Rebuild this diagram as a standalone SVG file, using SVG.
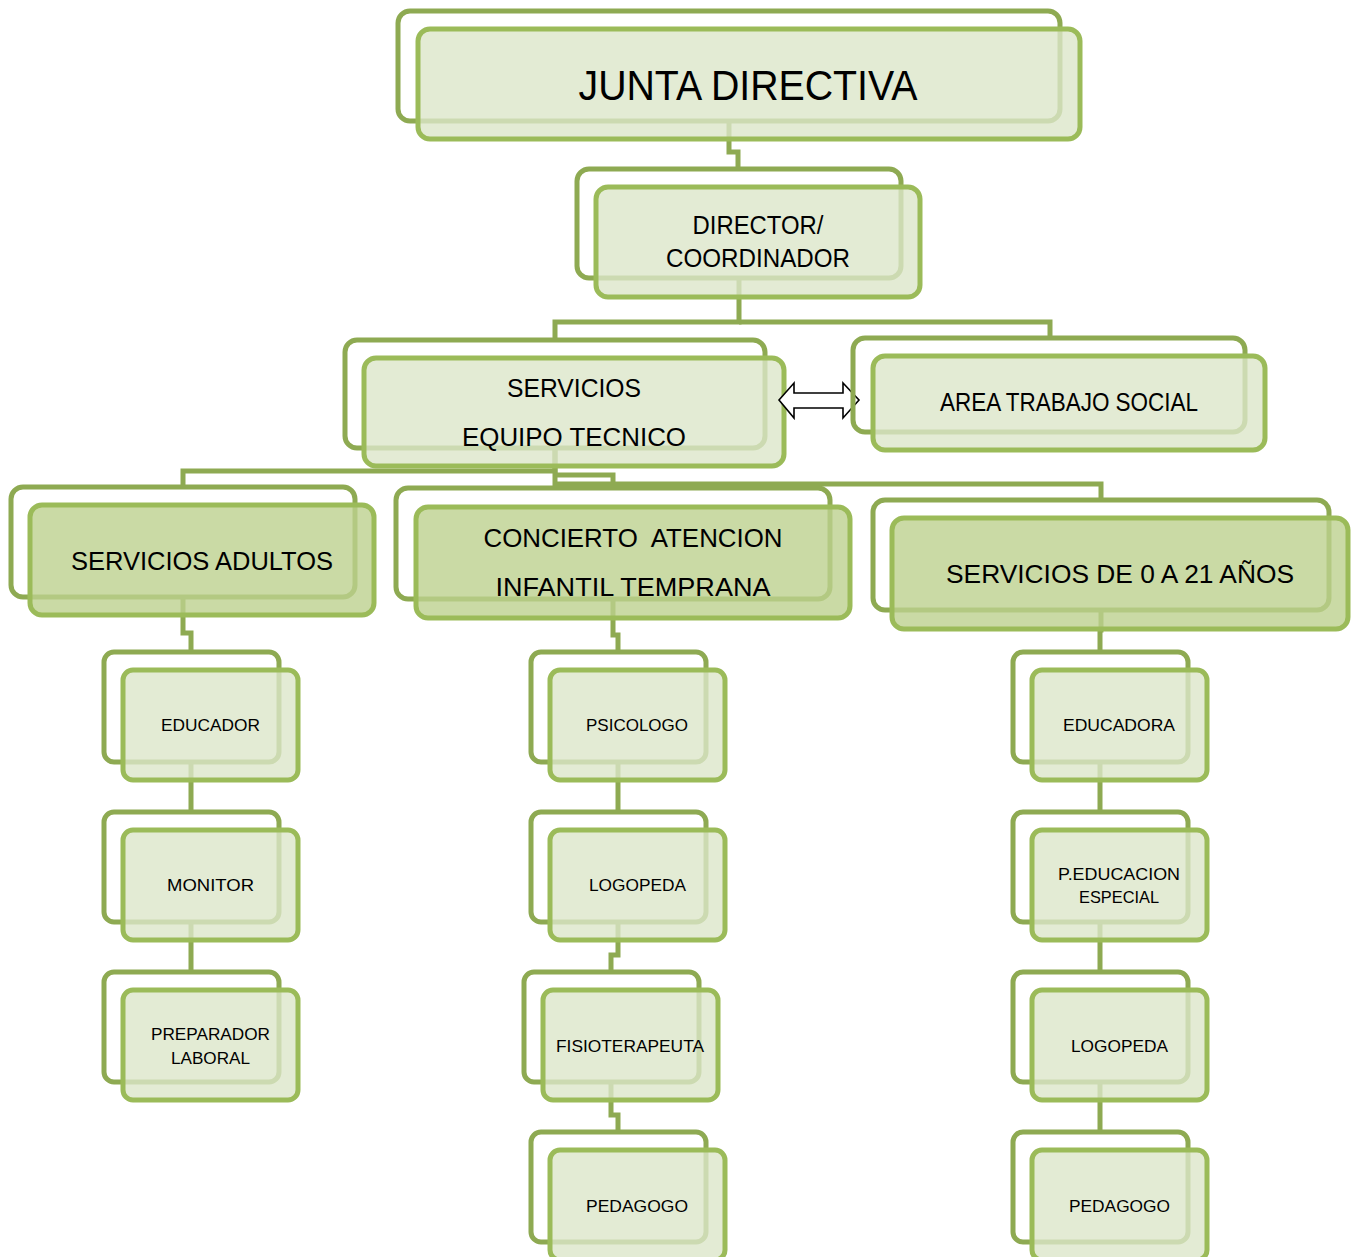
<svg xmlns="http://www.w3.org/2000/svg" width="1360" height="1257" viewBox="0 0 1360 1257">
<style>
.conn{fill:none;stroke:#8EAA52;stroke-width:5;stroke-linejoin:miter}
.back{fill:none;stroke:#8EAA52;stroke-width:5}
.front{fill:#DCE6C9;fill-opacity:0.8;stroke:#9BBB59;stroke-width:5}
.front3{fill:#BDD18E;fill-opacity:0.8;stroke:#9BBB59;stroke-width:5}
text{font-family:"Liberation Sans",Arial,sans-serif;fill:#000;text-anchor:middle}
.t1{font-size:42px}
.t2{font-size:26px}
.t3{font-size:17px}
</style>
<rect width="1360" height="1257" fill="#fff"/>
<g id="connectors">
<path class="conn" d="M729,121 V152 H738 V169"/>
<path class="conn" d="M739,278 V322 H555 V340"/>
<path class="conn" d="M739,322 H1050 V338"/>
<path class="conn" d="M555,448 V471 H183 V487"/>
<path class="conn" d="M555,448 V484 H1101 V500"/>
<path class="conn" d="M555,475 H613 V488"/>
<path class="conn" d="M183,597 V633 H191 V652"/>
<path class="conn" d="M613,599 V635 H618 V652"/>
<path class="conn" d="M1101,610 V630 H1100 V652"/>
<path class="conn" d="M191,762 V812 M191,922 V972"/>
<path class="conn" d="M618,762 V812"/>
<path class="conn" d="M618,922 V955 H611 V972"/>
<path class="conn" d="M611,1082 V1115 H618 V1132"/>
<path class="conn" d="M1100,762 V812 M1100,922 V972 M1100,1082 V1132"/>
</g>
<g id="junta">
<rect class="back" x="398" y="11" width="662" height="110" rx="12"/>
<rect class="front" x="418" y="29" width="662" height="110" rx="12"/>
<text class="t1" x="748" y="100" textLength="339" lengthAdjust="spacingAndGlyphs">JUNTA DIRECTIVA</text>
</g>
<g id="director">
<rect class="back" x="577" y="169" width="324" height="109" rx="12"/>
<rect class="front" x="596" y="187" width="324" height="110" rx="12"/>
<text class="t2" x="758" y="234" textLength="131" lengthAdjust="spacingAndGlyphs">DIRECTOR/</text>
<text class="t2" x="758" y="267" textLength="184" lengthAdjust="spacingAndGlyphs">COORDINADOR</text>
</g>
<g id="servicios">
<rect class="back" x="345" y="340" width="420" height="108" rx="12"/>
<rect class="front" x="364" y="358" width="420" height="108" rx="12"/>
<text class="t2" x="574" y="397" textLength="134" lengthAdjust="spacingAndGlyphs">SERVICIOS</text>
<text class="t2" x="574" y="446" textLength="224" lengthAdjust="spacingAndGlyphs">EQUIPO TECNICO</text>
</g>
<g id="double-arrow">
<path d="M779,400 L794,383 V393 H843 V383 L859,400 L843,418 V408 H794 V418 Z" fill="#fff" stroke="#000" stroke-width="1.6" stroke-linejoin="miter"/>
</g>
<g id="area">
<rect class="back" x="853" y="338" width="392" height="94" rx="12"/>
<rect class="front" x="873" y="356" width="392" height="94" rx="12"/>
<text class="t2" x="1069" y="411" font-size="24" textLength="258" lengthAdjust="spacingAndGlyphs">AREA TRABAJO SOCIAL</text>
</g>
<g id="adultos">
<rect class="back" x="11" y="487" width="344" height="110" rx="12"/>
<rect class="front3" x="30" y="505" width="344" height="110" rx="12"/>
<text class="t2" x="202" y="570" textLength="262" lengthAdjust="spacingAndGlyphs">SERVICIOS ADULTOS</text>
</g>
<g id="concierto">
<rect class="back" x="396" y="488" width="434" height="111" rx="12"/>
<rect class="front3" x="416" y="507" width="434" height="111" rx="12"/>
<text class="t2" x="633" y="547" textLength="299" lengthAdjust="spacingAndGlyphs" xml:space="preserve">CONCIERTO  ATENCION</text>
<text class="t2" x="633" y="596" textLength="275" lengthAdjust="spacingAndGlyphs">INFANTIL TEMPRANA</text>
</g>
<g id="servicios-0-21">
<rect class="back" x="873" y="500" width="456" height="110" rx="12"/>
<rect class="front3" x="892" y="518" width="456" height="111" rx="12"/>
<text class="t2" x="1120" y="583" textLength="348" lengthAdjust="spacingAndGlyphs">SERVICIOS DE 0 A 21 AÑOS</text>
</g>
<g id="educador">
<rect class="back" x="104" y="652" width="175" height="110" rx="10"/>
<rect class="front" x="123" y="670" width="175" height="110" rx="10"/>
<text class="t3" x="210.5" y="731" textLength="99" lengthAdjust="spacingAndGlyphs">EDUCADOR</text>
</g>
<g id="monitor">
<rect class="back" x="104" y="812" width="175" height="110" rx="10"/>
<rect class="front" x="123" y="830" width="175" height="110" rx="10"/>
<text class="t3" x="210.5" y="891" textLength="87" lengthAdjust="spacingAndGlyphs">MONITOR</text>
</g>
<g id="preparador">
<rect class="back" x="104" y="972" width="175" height="110" rx="10"/>
<rect class="front" x="123" y="990" width="175" height="110" rx="10"/>
<text class="t3" x="210.5" y="1040" textLength="119" lengthAdjust="spacingAndGlyphs">PREPARADOR</text>
<text class="t3" x="210.5" y="1064" textLength="79" lengthAdjust="spacingAndGlyphs">LABORAL</text>
</g>
<g id="psicologo">
<rect class="back" x="531" y="652" width="175" height="110" rx="10"/>
<rect class="front" x="550" y="670" width="175" height="110" rx="10"/>
<text class="t3" x="637" y="731" textLength="102" lengthAdjust="spacingAndGlyphs">PSICOLOGO</text>
</g>
<g id="logopeda-1">
<rect class="back" x="531" y="812" width="175" height="110" rx="10"/>
<rect class="front" x="550" y="830" width="175" height="110" rx="10"/>
<text class="t3" x="637.5" y="891" textLength="97" lengthAdjust="spacingAndGlyphs">LOGOPEDA</text>
</g>
<g id="fisioterapeuta">
<rect class="back" x="524" y="972" width="175" height="110" rx="10"/>
<rect class="front" x="543" y="990" width="175" height="110" rx="10"/>
<text class="t3" x="630" y="1052" textLength="148" lengthAdjust="spacingAndGlyphs">FISIOTERAPEUTA</text>
</g>
<g id="pedagogo-1">
<rect class="back" x="531" y="1132" width="175" height="110" rx="10"/>
<rect class="front" x="550" y="1150" width="175" height="110" rx="10"/>
<text class="t3" x="637" y="1212" textLength="102" lengthAdjust="spacingAndGlyphs">PEDAGOGO</text>
</g>
<g id="educadora">
<rect class="back" x="1013" y="652" width="175" height="110" rx="10"/>
<rect class="front" x="1032" y="670" width="175" height="110" rx="10"/>
<text class="t3" x="1119" y="731" textLength="112" lengthAdjust="spacingAndGlyphs">EDUCADORA</text>
</g>
<g id="p-educacion-especial">
<rect class="back" x="1013" y="812" width="175" height="110" rx="10"/>
<rect class="front" x="1032" y="830" width="175" height="110" rx="10"/>
<text class="t3" x="1119" y="880" textLength="122" lengthAdjust="spacingAndGlyphs">P.EDUCACION</text>
<text class="t3" x="1119" y="903" textLength="80" lengthAdjust="spacingAndGlyphs">ESPECIAL</text>
</g>
<g id="logopeda-2">
<rect class="back" x="1013" y="972" width="175" height="110" rx="10"/>
<rect class="front" x="1032" y="990" width="175" height="110" rx="10"/>
<text class="t3" x="1119.5" y="1052" textLength="97" lengthAdjust="spacingAndGlyphs">LOGOPEDA</text>
</g>
<g id="pedagogo-2">
<rect class="back" x="1013" y="1132" width="175" height="110" rx="10"/>
<rect class="front" x="1032" y="1150" width="175" height="110" rx="10"/>
<text class="t3" x="1119.5" y="1212" textLength="101" lengthAdjust="spacingAndGlyphs">PEDAGOGO</text>
</g>
</svg>
